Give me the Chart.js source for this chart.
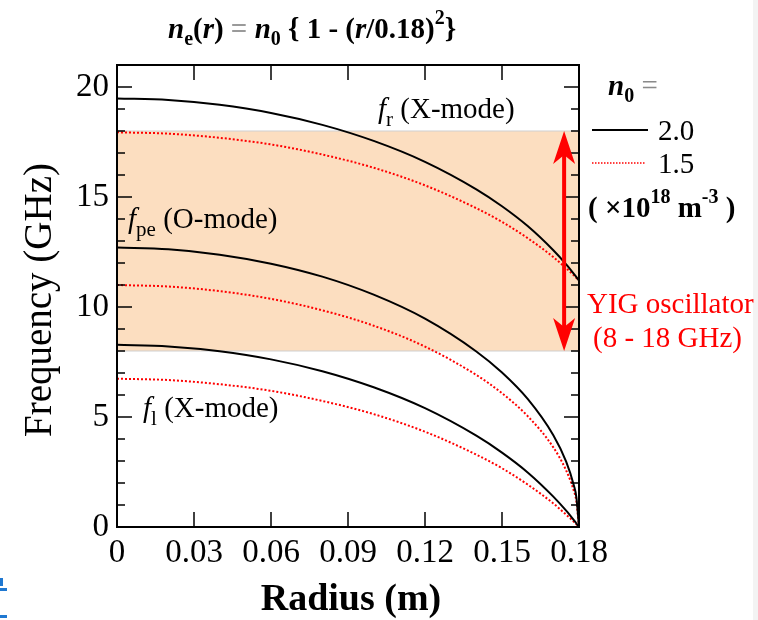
<!DOCTYPE html>
<html>
<head>
<meta charset="utf-8">
<script src="https://cdn.jsdelivr.net/npm/chart.js@4.4.1/dist/chart.umd.min.js"></script>
<style>
  html, body { margin: 0; padding: 0; background: #fff; }
</style>
</head>
<body>
<canvas id="chartCanvas" width="758" height="620"></canvas>
<script>
// radius (m) and frequencies (GHz)
const radius = [0, 0.02, 0.04, 0.06, 0.08, 0.10, 0.12, 0.14, 0.15, 0.16, 0.17, 0.175, 0.178, 0.179, 0.18];

// n0 = 2.0 x 10^18 m^-3
const fr20  = [19.48, 19.41, 19.19, 18.82, 18.28, 17.55, 16.60, 15.35, 14.58, 13.68, 12.58, 11.94, 11.51, 11.36, 11.2];
const fpe20 = [12.70, 12.62, 12.38, 11.97, 11.38, 10.56, 9.47, 7.98, 7.02, 5.82, 4.17, 2.97, 1.89, 1.34, 0];
const fl20  = [8.28, 8.21, 7.99, 7.62, 7.08, 6.35, 5.40, 4.15, 3.38, 2.48, 1.38, 0.74, 0.31, 0.16, 0];

// n0 = 1.5 x 10^18 m^-3
const fr15  = [17.94, 17.88, 17.69, 17.39, 16.93, 16.33, 15.53, 14.49, 13.87, 13.13, 12.27, 11.76, 11.44, 11.32, 11.2];
const fpe15 = [11.00, 10.93, 10.72, 10.37, 9.85, 9.15, 8.20, 6.91, 6.08, 5.04, 3.62, 2.57, 1.64, 1.16, 0];
const fl15  = [6.74, 6.68, 6.49, 6.19, 5.73, 5.13, 4.33, 3.29, 2.67, 1.93, 1.07, 0.56, 0.24, 0.12, 0];

// tick labels
const yTicks = [0, 5, 10, 15, 20];
const xTicks = [0, 0.03, 0.06, 0.09, 0.12, 0.15, 0.18];

// YIG oscillator range (GHz) and where its arrow sits (m)
const yigBand = [8, 18];
const arrowR = 0.1742;

const SERIF = '"Liberation Serif", "Times New Roman", serif';

function pts(ys) {
    return radius.map((r, i) => ({ x: r, y: ys[i] }));
}

function solid(ys) {
    return { data: pts(ys), borderColor: '#000', borderWidth: 2, pointRadius: 0,
             cubicInterpolationMode: 'monotone', fill: false };
}

function dotted(ys) {
    return { data: pts(ys), borderColor: '#ff0000', borderWidth: 2, borderDash: [2, 2],
             pointRadius: 0, cubicInterpolationMode: 'monotone', fill: false };
}

// draws a run of text pieces (sub/superscripts) starting at x, baseline y
function rich(ctx, x, y, parts, color) {
    parts.forEach(p => {
        ctx.font = p.f;
        ctx.fillStyle = p.c || color || '#000';
        ctx.fillText(p.t, x, y + (p.dy || 0));
        x += ctx.measureText(p.t).width;
    });
}

function line(ctx, x1, y1, x2, y2) {
    ctx.beginPath();
    ctx.moveTo(x1, y1);
    ctx.lineTo(x2, y2);
    ctx.stroke();
}

function arrowHead(ctx, x, tip, dir) {
    ctx.beginPath();
    ctx.moveTo(x, tip);
    ctx.lineTo(x + 11, tip + dir * 33);
    ctx.lineTo(x, tip + dir * 24);
    ctx.lineTo(x - 11, tip + dir * 33);
    ctx.closePath();
    ctx.fill();
}

const decor = {
    id: 'decor',
    beforeDraw(chart) {
        const ctx = chart.ctx;
        ctx.save();
        ctx.fillStyle = '#fff';
        ctx.fillRect(0, 0, chart.width, chart.height);
        ctx.fillStyle = '#f3f3f3';
        ctx.fillRect(753, 0, 5, chart.height);
        ctx.fillStyle = '#1f78d1';
        ctx.fillRect(0, 578, 3, 8);
        ctx.fillRect(0, 588, 7, 3);
        ctx.fillRect(0, 615, 7, 3);
        ctx.restore();
    },
    beforeDatasetsDraw(chart) {
        const ctx = chart.ctx;
        const { left, right } = chart.chartArea;
        const y = chart.scales.y;
        const yTop = y.getPixelForValue(yigBand[1]);
        const yBot = y.getPixelForValue(yigBand[0]);
        ctx.save();
        ctx.fillStyle = 'rgb(252, 222, 192)';
        ctx.fillRect(left, yTop, right - left, yBot - yTop);
        ctx.strokeStyle = '#cfcfcf';
        ctx.lineWidth = 1;
        line(ctx, left, yTop, right, yTop);
        line(ctx, left, yBot, right, yBot);
        ctx.restore();
    },
    afterDatasetsDraw(chart) {
        const ctx = chart.ctx;
        const { left, right, top, bottom } = chart.chartArea;
        const x = chart.scales.x;
        const y = chart.scales.y;
        ctx.save();

        // frame and inward ticks
        ctx.strokeStyle = '#000';
        ctx.lineWidth = 2;
        ctx.strokeRect(left, top, right - left, bottom - top);
        ctx.lineWidth = 1.5;
        for (let v = y.min; v <= y.max; v++) {
            const py = y.getPixelForValue(v);
            const len = v % 5 === 0 ? 15 : 8;
            line(ctx, left, py, left + len, py);
            line(ctx, right, py, right - len, py);
        }
        x.ticks.forEach(t => {
            const px = x.getPixelForValue(t.value);
            line(ctx, px, bottom, px, bottom - 15);
            line(ctx, px, top, px, top + 15);
        });

        // YIG arrow
        const ax = x.getPixelForValue(arrowR);
        const aTop = y.getPixelForValue(yigBand[1]);
        const aBot = y.getPixelForValue(yigBand[0]);
        ctx.strokeStyle = '#ff0000';
        ctx.fillStyle = '#ff0000';
        ctx.lineWidth = 4;
        line(ctx, ax, aTop + 20, ax, aBot - 20);
        arrowHead(ctx, ax, aTop, 1);
        arrowHead(ctx, ax, aBot, -1);

        ctx.textBaseline = 'alphabetic';
        ctx.textAlign = 'left';

        const reg = '29px ' + SERIF;
        const ita = 'italic 29px ' + SERIF;
        const sub = '21px ' + SERIF;

        // curve labels
        rich(ctx, 378, 118, [
            { t: 'f', f: ita }, { t: 'r', f: sub, dy: 8 }, { t: ' (X-mode)', f: reg }
        ]);
        rich(ctx, 128, 228, [
            { t: 'f', f: ita }, { t: 'pe', f: sub, dy: 8 }, { t: ' (O-mode)', f: reg }
        ]);
        rich(ctx, 143, 417, [
            { t: 'f', f: ita }, { t: 'l', f: sub, dy: 8 }, { t: ' (X-mode)', f: reg }
        ]);

        // title
        const tb = 'bold 29px ' + SERIF;
        const tbi = 'bold italic 29px ' + SERIF;
        const ts = 'bold 20px ' + SERIF;
        rich(ctx, 168, 38, [
            { t: 'n', f: tbi }, { t: 'e', f: ts, dy: 7 }, { t: '(', f: tb }, { t: 'r', f: tbi },
            { t: ') ', f: tb }, { t: '=', f: tb, c: '#9a9a9a' }, { t: ' ', f: tb },
            { t: 'n', f: tbi }, { t: '0', f: ts, dy: 7 }, { t: ' { 1 - (', f: tb },
            { t: 'r', f: tbi }, { t: '/0.18)', f: tb }, { t: '2', f: ts, dy: -14 }, { t: '}', f: tb }
        ]);

        // legend
        rich(ctx, 608, 95, [
            { t: 'n', f: 'bold italic 29px ' + SERIF }, { t: '0', f: ts, dy: 7 },
            { t: ' =', f: reg, c: '#8a8a8a' }
        ]);
        ctx.strokeStyle = '#000';
        ctx.lineWidth = 2;
        ctx.setLineDash([]);
        line(ctx, 592, 130, 648, 130);
        rich(ctx, 658, 140, [{ t: '2.0', f: reg }]);
        ctx.strokeStyle = '#ff0000';
        ctx.lineWidth = 1.5;
        ctx.setLineDash([1.5, 1.5]);
        line(ctx, 592, 163, 645, 163);
        ctx.setLineDash([]);
        rich(ctx, 658, 173, [{ t: '1.5', f: reg }]);
        const lb = 'bold 29px ' + SERIF;
        const ls = 'bold 20px ' + SERIF;
        rich(ctx, 588, 217, [
            { t: '( \u00d710', f: lb }, { t: '18', f: ls, dy: -14 }, { t: ' m', f: lb },
            { t: '-3', f: ls, dy: -14 }, { t: ' )', f: lb }
        ]);

        rich(ctx, 587, 313, [{ t: 'YIG oscillator', f: reg }], '#ff0000');
        rich(ctx, 593, 347, [{ t: '(8 - 18 GHz)', f: reg }], '#ff0000');

        // axis titles
        ctx.fillStyle = '#000';
        ctx.textAlign = 'center';
        ctx.font = 'bold 38px ' + SERIF;
        ctx.fillText('Radius (m)', 351, 610);
        ctx.save();
        ctx.translate(51, 300);
        ctx.rotate(-Math.PI / 2);
        ctx.font = '39px ' + SERIF;
        ctx.fillText('Frequency (GHz)', 0, 0);
        ctx.restore();

        ctx.restore();
    }
};

let ctx = document.querySelector('#chartCanvas');

let graph = new Chart(ctx, {
    type: 'line',
    data: {
        datasets: [
            solid(fr20), solid(fpe20), solid(fl20),
            dotted(fr15), dotted(fpe15), dotted(fl15)
        ]
    },
    options: {
        responsive: false,
        animation: false,
        layout: { padding: { left: 0, right: 179, top: 65, bottom: 0 } },
        plugins: {
            legend: { display: false },
            tooltip: { enabled: false }
        },
        scales: {
            x: {
                type: 'linear',
                min: 0,
                max: 0.18,
                afterFit: s => { s.height = 93; },
                afterBuildTicks: s => { s.ticks = xTicks.map(v => ({ value: v })); },
                grid: { display: false, drawTicks: false },
                border: { display: false },
                ticks: {
                    padding: 7,
                    color: '#000',
                    maxRotation: 0,
                    autoSkip: false,
                    font: { family: SERIF, size: 33 },
                    callback: v => (v === 0 ? '0' : v.toFixed(2))
                }
            },
            y: {
                min: 0,
                max: 21,
                afterFit: s => { s.width = 117; },
                afterBuildTicks: s => { s.ticks = yTicks.map(v => ({ value: v })); },
                grid: { display: false, drawTicks: false },
                border: { display: false },
                ticks: {
                    padding: 8,
                    color: '#000',
                    autoSkip: false,
                    font: { family: SERIF, size: 33 }
                }
            }
        }
    },
    plugins: [decor]
});
</script>
</body>
</html>
